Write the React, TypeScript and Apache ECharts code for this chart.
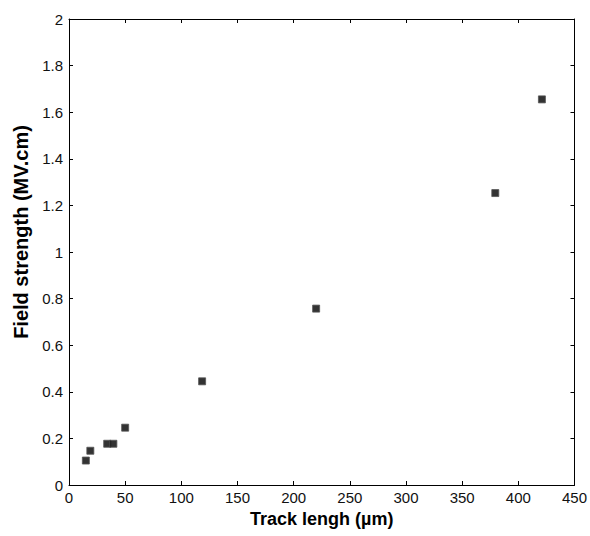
import React, { useEffect, useRef } from "react";
import * as echarts from "echarts";

const trackLength = [15, 19, 34, 39.5, 50, 118.5, 220, 379.5, 421];
const fieldStrength = [0.105, 0.147, 0.177, 0.177, 0.246, 0.445, 0.757, 1.253, 1.655];
const xTitle = "Track lengh (µm)";
const yTitle = "Field strength (MV.cm)";

export default function App() {
  const ref = useRef<HTMLDivElement>(null);
  useEffect(() => {
    if (!ref.current) return;
    const chart = echarts.init(ref.current, null, { renderer: "svg" });
    const font = "'Liberation Sans', Arial, sans-serif";
    const axisLine = { show: true, onZero: false, lineStyle: { color: "#000", width: 1 } };
    const tick = { show: true, inside: true, length: 4, lineStyle: { color: "#000" } };
    chart.setOption({
      animation: false,
      backgroundColor: "#fff",
      grid: { left: 69, right: 12, top: 19, bottom: 51, containLabel: false },
      xAxis: [
        {
          type: "value",
          min: 0,
          max: 450,
          interval: 50,
          axisLine,
          axisTick: tick,
          splitLine: { show: false },
          axisLabel: { color: "#111", fontFamily: font, fontSize: 15, margin: 5 },
          name: xTitle,
          nameLocation: "middle",
          nameGap: 23,
          nameTextStyle: { color: "#000", fontFamily: font, fontSize: 18, fontWeight: "bold" },
        },
        {
          type: "value",
          position: "top",
          min: 0,
          max: 450,
          interval: 50,
          axisLine,
          axisTick: tick,
          splitLine: { show: false },
          axisLabel: { show: false },
        },
      ],
      yAxis: [
        {
          type: "value",
          min: 0,
          max: 2,
          interval: 0.2,
          axisLine,
          axisTick: tick,
          splitLine: { show: false },
          axisLabel: { color: "#111", fontFamily: font, fontSize: 15, margin: 6 },
          name: yTitle,
          nameLocation: "middle",
          nameGap: 23,
          nameTextStyle: {
            color: "#000",
            fontFamily: font,
            fontSize: 20,
            fontWeight: "bold",
            padding: [0, 0, 0, 40],
          },
        },
        {
          type: "value",
          position: "right",
          min: 0,
          max: 2,
          interval: 0.2,
          axisLine,
          axisTick: tick,
          splitLine: { show: false },
          axisLabel: { show: false },
        },
      ],
      series: [
        {
          type: "scatter",
          symbol: "rect",
          symbolSize: 7,
          itemStyle: { color: "#000", borderColor: "#555", borderWidth: 1 },
          data: trackLength.map((x, i) => [x, fieldStrength[i]]),
        },
      ],
    });
    return () => chart.dispose();
  }, []);
  return (
    <div
      ref={ref}
      style={{ position: "fixed", left: 0, top: 0, width: 590, height: 536 }}
    />
  );
}
